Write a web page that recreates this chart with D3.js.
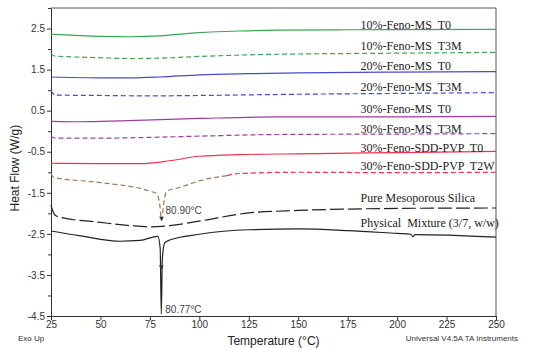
<!DOCTYPE html>
<html lang="en">
<head>
    <meta charset="utf-8">
    <title>DSC thermograms</title>
    <script type="text/javascript" src="https://d3js.org/d3.v7.min.js"></script>
    <style>
        body { margin: 0; background: white; }
        .axis text { font-family: Arial, "Liberation Sans", sans-serif; font-size: 10px; fill: #333; }
        .axis path, .axis line { stroke: #333; }
        .curve-label { font-family: "Times New Roman", "Liberation Serif", serif; font-size: 12px; fill: #222; }
        .note { font-family: Arial, "Liberation Sans", sans-serif; font-size: 10px; fill: #444; }
        .small { font-family: Arial, "Liberation Sans", sans-serif; font-size: 8px; fill: #333; }
    </style>
</head>
<body>
    <div id="chart"></div>
    <script type="text/javascript">
        const width = 550;
        const height = 348;
        const margin = {left: 51, right: 54, top: 8, bottom: 32};

        // axis ticks
        const xTicks = [25, 50, 75, 100, 125, 150, 175, 200, 225, 250];
        const yTicks = [2.5, 1.5, 0.5, -0.5, -1.5, -2.5, -3.5, -4.5];
        const yMinorTicks = [3.0, 2.0, 1.0, 0.0, -1.0, -2.0, -3.0, -4.0];

        // curves: temperature (°C) and heat flow (W/g)
        const feno10T0_T   = [25, 35, 50, 65, 80, 100, 120, 140, 175, 250];
        const feno10T0_Q   = [2.36, 2.34, 2.31, 2.30, 2.32, 2.40, 2.44, 2.46, 2.47, 2.48];

        const feno10T3M_T  = [25, 27, 50, 65, 80, 100, 125, 150, 200, 250];
        const feno10T3M_Q  = [1.89, 1.83, 1.79, 1.77, 1.78, 1.82, 1.86, 1.88, 1.90, 1.92];

        const feno20T0_T   = [25, 50, 65, 80, 100, 125, 150, 200, 250];
        const feno20T0_Q   = [1.32, 1.30, 1.30, 1.32, 1.37, 1.40, 1.42, 1.44, 1.45];

        const feno20T3M_T  = [25, 27, 50, 75, 100, 150, 200, 250];
        const feno20T3M_Q  = [0.99, 0.88, 0.87, 0.86, 0.87, 0.90, 0.92, 0.94];

        const feno30T0_T   = [25, 40, 60, 100, 140, 200, 250];
        const feno30T0_Q   = [0.24, 0.23, 0.25, 0.31, 0.35, 0.35, 0.36];

        const feno30T3M_T  = [25, 27, 50, 75, 100, 140, 200, 250];
        const feno30T3M_Q  = [-0.12, -0.17, -0.17, -0.15, -0.12, -0.08, -0.07, -0.06];

        const sddT0_T      = [25, 50, 70, 85, 100, 120, 150, 200, 250];
        const sddT0_Q      = [-0.78, -0.79, -0.79, -0.72, -0.61, -0.57, -0.55, -0.52, -0.49];

        const sddT2W_T     = [25, 26.5, 50, 75, 78.5, 80, 80.9, 82, 83.5, 90, 100, 110, 114, 120, 150, 200, 250];
        const sddT2W_Q     = [-1.03, -1.13, -1.25, -1.46, -1.52, -1.80, -2.17, -1.75, -1.46, -1.37, -1.21, -1.11, -1.08, -1.03, -1.00, -1.01, -1.00];
        const sddT2WSplit  = 114; // colour changes from brown to red here

        const silica_T     = [25, 26, 27.5, 30, 50, 65, 75, 85, 100, 125, 150, 200, 250];
        const silica_Q     = [-1.80, -1.96, -2.06, -2.10, -2.22, -2.30, -2.33, -2.30, -2.19, -1.99, -1.93, -1.88, -1.87];

        const physMix_T    = [25, 40, 60, 70, 79, 80.2, 80.77, 81.3, 82.5, 85, 100, 125, 150, 175, 200, 207, 208, 209, 250];
        const physMix_Q    = [-2.43, -2.55, -2.68, -2.66, -2.56, -2.85, -4.45, -3.10, -2.72, -2.65, -2.51, -2.40, -2.38, -2.42, -2.49, -2.51, -2.57, -2.52, -2.58];

        const curveNames = ["10%-Feno-MS  T0", "10%-Feno-MS  T3M", "20%-Feno-MS  T0", "20%-Feno-MS  T3M",
            "30%-Feno-MS  T0", "30%-Feno-MS  T3M", "30%-Feno-SDD-PVP  T0", "30%-Feno-SDD-PVP  T2W",
            "Pure Mesoporous Silica", "Physical  Mixture (3/7, w/w)"];
        const labelValues = [2.6, 2.08, 1.6, 1.07, 0.55, 0.07, -0.4, -0.85, -1.63, -2.23];

        // peak annotations
        const peakLabels = ["80.90°C", "80.77°C"];
        const peakT = [80.9, 80.77];
        const peakArrowQ = [-2.12, -3.3];
        const peakTextQ = [-1.92, -4.33];

        const zip = (ts, qs) => ts.map((t, i) => ({t: t, q: qs[i]}));

        const svg = d3.select("#chart")
            .append("svg")
            .attr("width", width)
            .attr("height", height);

        const x = d3.scaleLinear()
            .domain([25, 250])
            .range([margin.left, width - margin.right]);

        const y = d3.scaleLinear()
            .domain([-4.5, 3.0])
            .range([height - margin.bottom, margin.top]);

        const line = d3.line()
            .x(d => x(d.t))
            .y(d => y(d.q))
            .curve(d3.curveMonotoneX);

        // frame top / right
        svg.append("path")
            .attr("d", `M${x(25)},${y(3.0)}H${x(250)}V${y(-4.5)}`)
            .attr("fill", "none")
            .attr("stroke", "#555");

        // axes
        svg.append("g")
            .attr("class", "axis x")
            .attr("transform", `translate(0, ${y(-4.5)})`)
            .call(d3.axisBottom(x).tickValues(xTicks).tickSize(4).tickPadding(1).tickSizeOuter(0).tickFormat(d3.format("d")));

        svg.append("g")
            .attr("class", "axis y")
            .attr("transform", `translate(${x(25)}, 0)`)
            .call(d3.axisLeft(y).tickValues(yTicks).tickSize(4).tickPadding(2).tickSizeOuter(0)
                .tickFormat(d => d3.format(".1f")(d).replace("−", "-")));

        svg.append("g")
            .attr("class", "axis y minor")
            .attr("transform", `translate(${x(25)}, 0)`)
            .call(d3.axisLeft(y).tickValues(yMinorTicks).tickSize(3).tickFormat(""))
            .select(".domain").remove();

        // curves
        const series = [
            {data: zip(feno10T0_T, feno10T0_Q), color: "#3aa655", dash: null},
            {data: zip(feno10T3M_T, feno10T3M_Q), color: "#3aa655", dash: "5,3"},
            {data: zip(feno20T0_T, feno20T0_Q), color: "#4a4ad0", dash: null},
            {data: zip(feno20T3M_T, feno20T3M_Q), color: "#4a4ad0", dash: "5,3"},
            {data: zip(feno30T0_T, feno30T0_Q), color: "#a03c9c", dash: null},
            {data: zip(feno30T3M_T, feno30T3M_Q), color: "#a03c9c", dash: "5,3"},
            {data: zip(sddT0_T, sddT0_Q), color: "#f0304e", dash: null},
            {data: zip(sddT2W_T, sddT2W_Q).filter(d => d.t >= sddT2WSplit), color: "#f0304e", dash: "5,3"},
            {data: zip(sddT2W_T, sddT2W_Q).filter(d => d.t <= sddT2WSplit), color: "#a07a55", dash: "5,3"},
            {data: zip(silica_T, silica_Q), color: "#222", dash: "14,4"},
            {data: zip(physMix_T, physMix_Q), color: "#222", dash: null}
        ];

        svg.append("g")
            .attr("class", "curves")
            .selectAll("path")
            .data(series)
            .enter()
            .append("path")
                .attr("d", d => line(d.data))
                .attr("fill", "none")
                .attr("stroke", d => d.color)
                .attr("stroke-width", 1.2)
                .attr("stroke-dasharray", d => d.dash);

        // curve labels
        svg.append("g")
            .selectAll("text")
            .data(curveNames)
            .enter()
            .append("text")
                .attr("class", "curve-label")
                .attr("x", x(181.5))
                .attr("y", (d, i) => y(labelValues[i]))
                .attr("dy", "0.35em")
                .style("white-space", "pre")
                .text(d => d);

        // peak arrows and labels
        svg.append("g")
            .selectAll("path")
            .data(peakT)
            .enter()
            .append("path")
                .attr("d", d3.symbol().type(d3.symbolTriangle).size(10))
                .attr("transform", (d, i) => `translate(${x(d)}, ${y(peakArrowQ[i])}) rotate(180)`)
                .attr("fill", "#333");

        svg.append("g")
            .selectAll("text")
            .data(peakLabels)
            .enter()
            .append("text")
                .attr("class", "note")
                .attr("x", (d, i) => x(peakT[i]) + 4)
                .attr("y", (d, i) => y(peakTextQ[i]))
                .attr("dy", "0.35em")
                .text(d => d);

        // axis titles and footer
        svg.append("text")
            .attr("x", (x(25) + x(250)) / 2)
            .attr("y", 345)
            .attr("text-anchor", "middle")
            .style("font-family", "Arial, 'Liberation Sans', sans-serif")
            .style("font-size", "12px")
            .style("fill", "#222")
            .text("Temperature (°C)");

        svg.append("text")
            .attr("transform", `translate(19, ${y(-0.9)}) rotate(-90)`)
            .attr("text-anchor", "middle")
            .style("font-family", "Arial, 'Liberation Sans', sans-serif")
            .style("font-size", "12px")
            .style("fill", "#222")
            .text("Heat Flow (W/g)");

        svg.append("text")
            .attr("class", "small")
            .attr("x", 18)
            .attr("y", 341)
            .text("Exo Up");

        svg.append("text")
            .attr("class", "small")
            .attr("x", 518)
            .attr("y", 341)
            .attr("text-anchor", "end")
            .text("Universal V4.5A TA Instruments");
    </script>
</body>
</html>
